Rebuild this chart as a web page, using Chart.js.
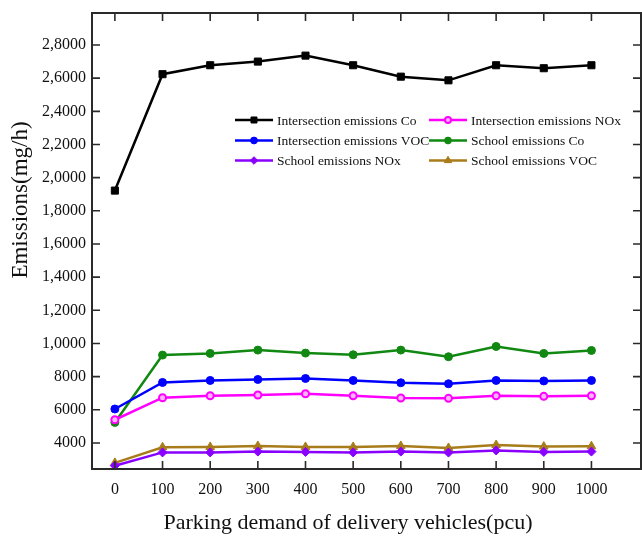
<!DOCTYPE html>
<html>
<head>
<meta charset="utf-8">
<script src="https://cdn.jsdelivr.net/npm/chart.js@4.4.1/dist/chart.umd.min.js"></script>
<style>
html,body{margin:0;padding:0;background:#fff;}
canvas{display:block;}
</style>
</head>
<body>
<canvas id="c" width="642" height="536"></canvas>
<script>
const parkingDemand = [0, 100, 200, 300, 400, 500, 600, 700, 800, 900, 1000];
const intersectionCo  = [19220, 26240, 26780, 27000, 27360, 26780, 26090, 25870, 26780, 26600, 26780];
const intersectionNOx = [5400, 6730, 6850, 6890, 6970, 6850, 6710, 6690, 6850, 6810, 6850];
const intersectionVOC = [6050, 7650, 7770, 7830, 7890, 7770, 7630, 7570, 7770, 7740, 7770];
const schoolCo  = [5240, 9300, 9400, 9600, 9420, 9320, 9600, 9200, 9820, 9400, 9580];
const schoolNOx = [2630, 3430, 3430, 3480, 3460, 3430, 3480, 3420, 3550, 3460, 3480];
const schoolVOC = [2800, 3740, 3760, 3820, 3760, 3760, 3820, 3700, 3880, 3780, 3800];
const yTickValues = [4000, 6000, 8000, 10000, 12000, 14000, 16000, 18000, 20000, 22000, 24000, 26000, 28000];
const yTickLabels = ['4000', '6000', '8000', '1,0000', '1,2000', '1,4000', '1,6000', '1,8000', '2,0000', '2,2000', '2,4000', '2,6000', '2,8000'];
const xTickLabels = ['0', '100', '200', '300', '400', '500', '600', '700', '800', '900', '1000'];
const seriesNames = ['Intersection emissions Co', 'Intersection emissions NOx', 'Intersection emissions VOC', 'School emissions Co', 'School emissions NOx', 'School emissions VOC'];

const SERIF = '"Liberation Serif", "DejaVu Serif", serif';
const pts = arr => parkingDemand.map((x, i) => ({x: x, y: arr[i]}));

function ds(label, data, color, style, radius, bg, bw) {
  return {
    label: label, data: pts(data), borderColor: color, backgroundColor: color,
    borderWidth: 2.5, pointStyle: style, pointRadius: radius, pointHoverRadius: radius,
    pointBackgroundColor: bg || color, pointBorderColor: color, pointBorderWidth: bw || 1,
    tension: 0, fill: false
  };
}

const datasets = [
  ds(seriesNames[0], intersectionCo, '#000000', 'rect', 5),
  ds(seriesNames[1], intersectionNOx, '#ff00ff', 'circle', 3.5, '#ffb3ff', 2),
  ds(seriesNames[2], intersectionVOC, '#0000ff', 'circle', 4),
  ds(seriesNames[3], schoolCo, '#118811', 'circle', 4),
  ds(seriesNames[4], schoolNOx, '#8a00ff', 'rectRot', 4.5),
  ds(seriesNames[5], schoolVOC, '#a87c1a', 'triangle', 5)
];

const framePlugin = {
  id: 'frame',
  afterDraw(chart) {
    const ctx = chart.ctx, a = chart.chartArea;
    const xs = chart.scales.x, ys = chart.scales.y;
    ctx.save();
    ctx.strokeStyle = '#2a2a2a';
    ctx.lineWidth = 2;
    ctx.strokeRect(a.left, a.top, a.right - a.left, a.bottom - a.top);
    ctx.lineWidth = 1.6;
    ctx.beginPath();
    const L = 8;
    parkingDemand.forEach(v => {
      const px = xs.getPixelForValue(v);
      ctx.moveTo(px, a.bottom); ctx.lineTo(px, a.bottom - L);
      ctx.moveTo(px, a.top); ctx.lineTo(px, a.top + L);
    });
    yTickValues.forEach(v => {
      const py = ys.getPixelForValue(v);
      ctx.moveTo(a.left, py); ctx.lineTo(a.left + L, py);
      ctx.moveTo(a.right, py); ctx.lineTo(a.right - L, py);
    });
    ctx.stroke();

    // axis titles
    ctx.fillStyle = '#111';
    ctx.textAlign = 'center';
    ctx.textBaseline = 'middle';
    ctx.font = '22px ' + SERIF;
    ctx.fillText('Parking demand of delivery vehicles(pcu)', 348, 523);
    ctx.save();
    ctx.translate(21, 200);
    ctx.rotate(-Math.PI / 2);
    ctx.font = '23px ' + SERIF;
    ctx.fillText('Emissions(mg/h)', 0, 0);
    ctx.restore();

    // legend
    ctx.font = '13.5px ' + SERIF;
    ctx.textAlign = 'left';
    const colX = [235, 429];
    const rowY = [120, 140.5, 160.5];
    chart.data.datasets.forEach((d, i) => {
      const x0 = colX[i % 2], y0 = rowY[Math.floor(i / 2)];
      ctx.strokeStyle = d.borderColor;
      ctx.lineWidth = 2.5;
      ctx.beginPath();
      ctx.moveTo(x0, y0); ctx.lineTo(x0 + 38, y0);
      ctx.stroke();
      ctx.fillStyle = d.pointBackgroundColor;
      ctx.strokeStyle = d.pointBorderColor;
      ctx.lineWidth = d.pointBorderWidth;
      Chart.helpers.drawPoint(ctx, {pointStyle: d.pointStyle, radius: d.pointRadius * 0.85, borderWidth: d.pointBorderWidth, rotation: 0}, x0 + 19, y0);
      ctx.fillStyle = '#111';
      ctx.fillText(d.label, x0 + 42, y0 + 1);
    });
    ctx.restore();
  }
};

new Chart(document.getElementById('c'), {
  type: 'line',
  data: {datasets: datasets},
  options: {
    responsive: false,
    animation: false,
    events: [],
    layout: {autoPadding: false, padding: {top: 13, right: 1, left: 0, bottom: 0}},
    plugins: {legend: {display: false}, tooltip: {enabled: false}},
    scales: {
      x: {
        type: 'linear', min: -48, max: 1104,
        afterBuildTicks: s => { s.ticks = parkingDemand.map(v => ({value: v})); },
        afterFit: s => { s.height = 67; s.paddingLeft = 0; s.paddingRight = 0; },
        grid: {display: false, drawTicks: false},
        border: {display: false},
        ticks: {
          autoSkip: false, maxRotation: 0, padding: 11,
          color: '#111', font: {family: SERIF, size: 16},
          callback: (v, i) => xTickLabels[i]
        }
      },
      y: {
        type: 'linear', min: 2430, max: 29930,
        afterBuildTicks: s => { s.ticks = yTickValues.map(v => ({value: v})); },
        afterFit: s => { s.width = 92; s.paddingTop = 0; s.paddingBottom = 0; },
        grid: {display: false, drawTicks: false},
        border: {display: false},
        ticks: {
          autoSkip: false, padding: 6,
          color: '#111', font: {family: SERIF, size: 16},
          callback: (v, i) => yTickLabels[i]
        }
      }
    }
  },
  plugins: [framePlugin]
});
</script>
</body>
</html>
